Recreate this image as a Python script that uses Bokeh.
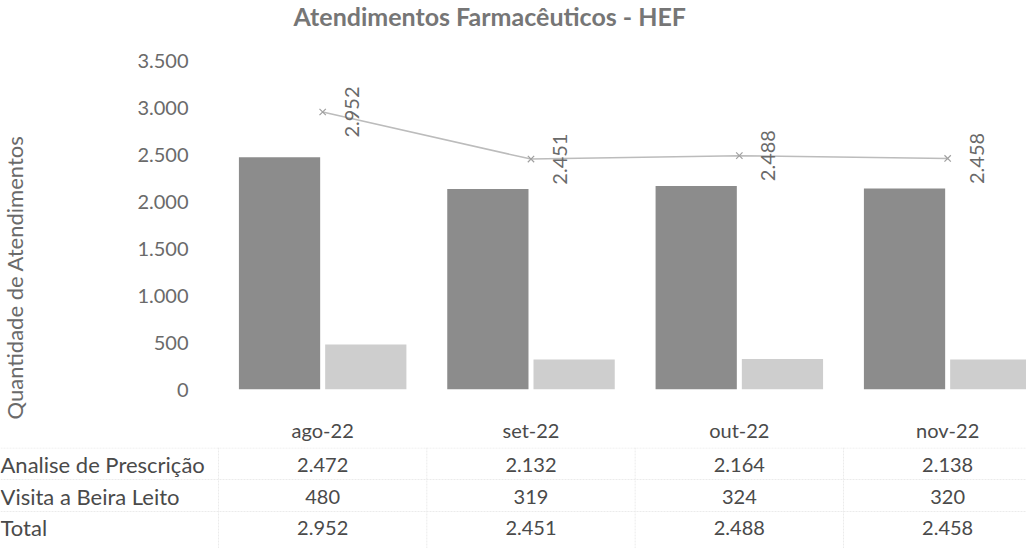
import numpy as np
from bokeh.plotting import figure
from bokeh.models import Range1d, FixedTicker
from bokeh.layouts import column, row
from bokeh.core.properties import value
from bokeh.embed import file_html
from bokeh.resources import INLINE

# ---------------- data ----------------
categories = ["ago-22", "set-22", "out-22", "nov-22"]
analise = [2472, 2132, 2164, 2138]
visita = [480, 319, 324, 320]
total = [2952, 2451, 2488, 2458]
series_names = ["Analise de Prescrição", "Visita a Beira Leito", "Total"]
y_ticks = [0, 500, 1000, 1500, 2000, 2500, 3000, 3500]
y_tick_labels = ["0", "500", "1.000", "1.500", "2.000", "2.500", "3.000", "3.500"]
title_text = "Atendimentos Farmacêuticos - HEF"
y_title = "Quantidade de Atendimentos"


def br(v):
    return f"{v:,}".replace(",", ".")


# ---------------- layout ----------------
FONT = "Lato"
W, H = 1026, 548
TOP_H = 447            # height of chart row (chart + header row of the table)
TAB_H = H - TOP_H      # height of the table rows
LW = 120               # width of the left strip holding the y title
FRAME_L = 218          # page x of the plot frame's left edge
FRAME_T = 32           # page y of the plot frame's top edge
ZERO_Y = 389           # page y of value 0
TOP_TICK_Y = 60        # page y of the highest tick
PXU = 208.33           # pixels per category
X0 = -0.5
X1 = X0 + (W - FRAME_L) / PXU
XB0 = X0 - FRAME_L / PXU
Y_END = y_ticks[-1] * (ZERO_Y - FRAME_T) / (ZERO_Y - TOP_TICK_Y)

idx = np.arange(len(categories))
DODGE = 0.207
BW = 0.39
TXT = "#4a4a4a"
LIGHT = "#6a6a6a"

# ---- left strip: y axis title ----
pl = figure(width=LW, height=TOP_H, output_backend="svg", toolbar_location=None,
            x_range=Range1d(0, LW), y_range=Range1d(0, TOP_H),
            x_axis_type=None, y_axis_type=None,
            min_border=0)
pl.frame_align = False
pl.outline_line_color = None
pl.xgrid.grid_line_color = None
pl.ygrid.grid_line_color = None
pl.text(x=[14], y=[TOP_H - 277], text=[y_title], angle=np.pi / 2,
        text_align="center", text_baseline="middle", text_font=value(FONT),
        text_font_size="22px", text_color=LIGHT)

# ---- chart ----
p = figure(width=W - LW, height=TOP_H, output_backend="svg", toolbar_location=None,
           x_range=Range1d(X0, X1), y_range=Range1d(0, Y_END),
           min_border_left=FRAME_L - LW, min_border_right=0,
           min_border_top=FRAME_T, min_border_bottom=TOP_H - ZERO_Y,
           title=title_text)
p.frame_align = False
p.outline_line_color = None
p.xgrid.grid_line_color = None
p.ygrid.grid_line_color = None

p.title.text_font = FONT
p.title.text_font_size = "25px"
p.title.text_font_style = "bold"
p.title.text_color = "#767676"
p.title.align = "left"
p.title.vertical_align = "top"
p.title.offset = 75
p.title.standoff = 0

p.vbar(x=idx - DODGE, top=analise, width=BW, fill_color="#8c8c8c", line_color=None)
p.vbar(x=idx + DODGE, top=visita, width=BW, fill_color="#cecece", line_color=None)

p.line(x=idx, y=total, line_color="#bcbcbc", line_width=1.5)
p.scatter(x=idx, y=total, marker="x", size=9, line_color="#a0a0a0", line_width=1.2)
p.text(x=idx, y=total, text=[br(v) for v in total], angle=np.pi / 2, x_offset=29,
       text_align="center", text_baseline="middle", text_font=value(FONT),
       text_font_size="20px", text_color=LIGHT)

p.yaxis.ticker = FixedTicker(ticks=y_ticks)
p.yaxis.major_label_overrides = dict(zip(y_ticks, y_tick_labels))
p.yaxis.axis_line_color = None
p.yaxis.major_tick_line_color = None
p.yaxis.minor_tick_line_color = None
p.yaxis.major_tick_out = 0
p.yaxis.major_label_standoff = 30
p.yaxis.major_label_text_font = FONT
p.yaxis.major_label_text_font_size = "20px"
p.yaxis.major_label_text_color = LIGHT

p.xaxis.ticker = FixedTicker(ticks=list(idx))
p.xaxis.major_label_overrides = {int(i): c for i, c in zip(idx, categories)}
p.xaxis.axis_line_color = None
p.xaxis.major_tick_line_color = None
p.xaxis.minor_tick_line_color = None
p.xaxis.major_tick_out = 0
p.xaxis.major_label_standoff = 28
p.xaxis.major_label_text_font = FONT
p.xaxis.major_label_text_font_size = "20px"
p.xaxis.major_label_text_color = TXT

# ---- data table rows ----
pt = figure(width=W, height=TAB_H, output_backend="svg", toolbar_location=None,
            x_range=Range1d(XB0, X1), y_range=Range1d(0, TAB_H),
            x_axis_type=None, y_axis_type=None, min_border=0)
pt.frame_align = False
pt.outline_line_color = None
pt.xgrid.grid_line_color = None
pt.ygrid.grid_line_color = None

row_y = [H - 464, H - 496, H - 527]
rows = [analise, visita, total]
grid_col = "#ebebeb"
line_y = [TAB_H - 0.5, H - 479, H - 511]
pt.segment(x0=[XB0] * 3, y0=line_y, x1=[X1] * 3, y1=line_y, line_color=grid_col,
           line_width=1, line_dash="2 1")
bounds = [X0] + [i + 0.5 for i in idx[:-1]]
pt.segment(x0=bounds, y0=[0] * len(bounds), x1=bounds, y1=[TAB_H] * len(bounds),
           line_color=grid_col, line_width=1, line_dash="2 1")

pt.text(x=[XB0] * 3, y=row_y, text=series_names, text_align="left", text_baseline="middle",
        text_font=value(FONT), text_font_size="22px", text_color=TXT)
for vals, yy in zip(rows, row_y):
    pt.text(x=idx, y=[yy] * len(idx), text=[br(v) for v in vals], text_align="center",
            text_baseline="middle", text_font=value(FONT), text_font_size="20px",
            text_color=TXT)

layout = column(row(pl, p), pt)
open("out.html", "w").write(file_html(layout, INLINE))
